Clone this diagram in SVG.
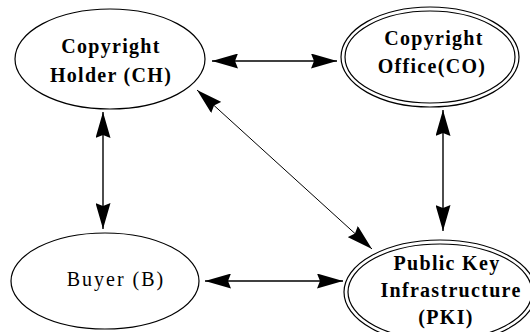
<svg xmlns="http://www.w3.org/2000/svg" width="530" height="332" viewBox="0 0 530 332">
<style>
.n{fill:none;stroke:#000;stroke-width:1.2}
.t{font-size:20px;font-weight:bold;text-anchor:middle;fill:#000;letter-spacing:1.3px}
.c line{stroke:#000;stroke-width:1.4;marker-start:url(#ah);marker-end:url(#ah)}
</style>
<defs>
<marker id="ah" viewBox="0 0 26 15" refX="26" refY="7.5" markerWidth="26" markerHeight="15" markerUnits="userSpaceOnUse" orient="auto-start-reverse">
<path d="M0,0 L26,7.5 L0,15 L3,7.5 z" fill="#000"/>
</marker>
</defs>
<rect width="530" height="332" fill="#fff"/>
<g font-family="Liberation Serif">
<g id="CH">
<ellipse class="n" cx="110" cy="59" rx="95" ry="50"/>
<text class="t" x="111" y="53">Copyright</text>
<text class="t" x="111" y="82">Holder (CH)</text>
</g>
<g id="CO">
<ellipse class="n" cx="430" cy="57" rx="89" ry="50"/>
<ellipse class="n" cx="430" cy="57" rx="85" ry="46"/>
<text class="t" x="434" y="45">Copyright</text>
<text class="t" x="432" y="73">Office(CO)</text>
</g>
<g id="B">
<ellipse class="n" cx="105" cy="281" rx="94" ry="48"/>
<text class="t" x="116" y="286" style="font-weight:normal;letter-spacing:2px">Buyer (B)</text>
</g>
<g id="PKI">
<ellipse class="n" cx="440" cy="292" rx="96" ry="52"/>
<ellipse class="n" cx="440" cy="292" rx="92" ry="48"/>
<text class="t" x="447" y="270">Public Key</text>
<text class="t" x="451" y="297">Infrastructure</text>
<text class="t" x="446" y="324">(PKI)</text>
</g>
</g>
<g id="connectors" class="c">
<line x1="212" y1="61" x2="337" y2="61"/>
<line x1="103" y1="112" x2="103" y2="229"/>
<line x1="443" y1="110" x2="443" y2="231"/>
<line x1="205" y1="281" x2="343" y2="281"/>
<line x1="197" y1="90" x2="372" y2="249" style="stroke-width:1"/>
</g>
</svg>
